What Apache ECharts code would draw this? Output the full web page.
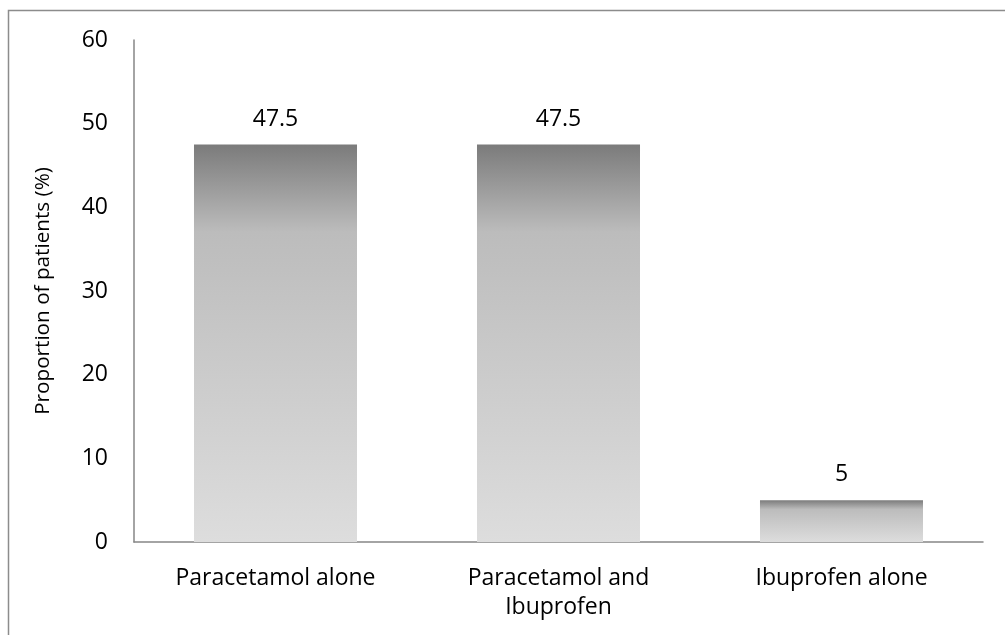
<!DOCTYPE html>
<html>
<head>
<meta charset="utf-8">
<script src="https://cdn.jsdelivr.net/npm/echarts@6/dist/echarts.min.js"></script>
<style>
html,body{margin:0;padding:0;background:#fff;}
#chart{width:1005px;height:635px;}
</style>
</head>
<body>
<div id="chart"></div>
<script>
const categories = ['Paracetamol alone', 'Paracetamol and\nIbuprofen', 'Ibuprofen alone'];
const values = [47.5, 47.5, 5];
const yTicks = [0, 10, 20, 30, 40, 50, 60];
const yAxisTitle = 'Proportion of patients (%)';

const FONT = 'Open Sans';
const FS = 23;
const chart = echarts.init(document.getElementById('chart'), null, {renderer: 'canvas'});
const barGradient = new echarts.graphic.LinearGradient(0, 0, 0, 1, [
  {offset: 0, color: '#7b7b7b'},
  {offset: 0.22, color: '#bcbcbc'},
  {offset: 1, color: '#dddddd'}
]);
chart.setOption({
  animation: false,
  graphic: [{
    type: 'rect',
    shape: {x: 8.5, y: 10.5, width: 1100, height: 700},
    style: {fill: 'none', stroke: '#8c8c8c', lineWidth: 1.5},
    silent: true
  }],
  grid: {left: 134, right: 22, top: 40, bottom: 93, containLabel: false},
  xAxis: {
    type: 'category',
    data: categories,
    axisLine: {lineStyle: {color: '#868686', width: 1.5}},
    axisTick: {show: false},
    axisLabel: {color: '#000', fontFamily: FONT, fontSize: FS, margin: 22, lineHeight: 29}
  },
  yAxis: {
    type: 'value',
    min: yTicks[0],
    max: yTicks[yTicks.length - 1],
    interval: 10,
    name: yAxisTitle,
    nameLocation: 'middle',
    nameGap: 80,
    nameTextStyle: {color: '#000', fontFamily: FONT, fontSize: 20.7},
    axisLine: {show: true, lineStyle: {color: '#868686', width: 1.5}},
    axisTick: {show: false},
    splitLine: {show: false},
    axisLabel: {color: '#000', fontFamily: FONT, fontSize: FS, margin: 26}
  },
  series: [{
    type: 'bar',
    data: values,
    barWidth: '57.6%',
    itemStyle: {color: barGradient},
    label: {
      show: true,
      position: 'top',
      distance: 14,
      color: '#000',
      fontFamily: FONT,
      fontSize: FS
    }
  }]
});
</script>
</body>
</html>
